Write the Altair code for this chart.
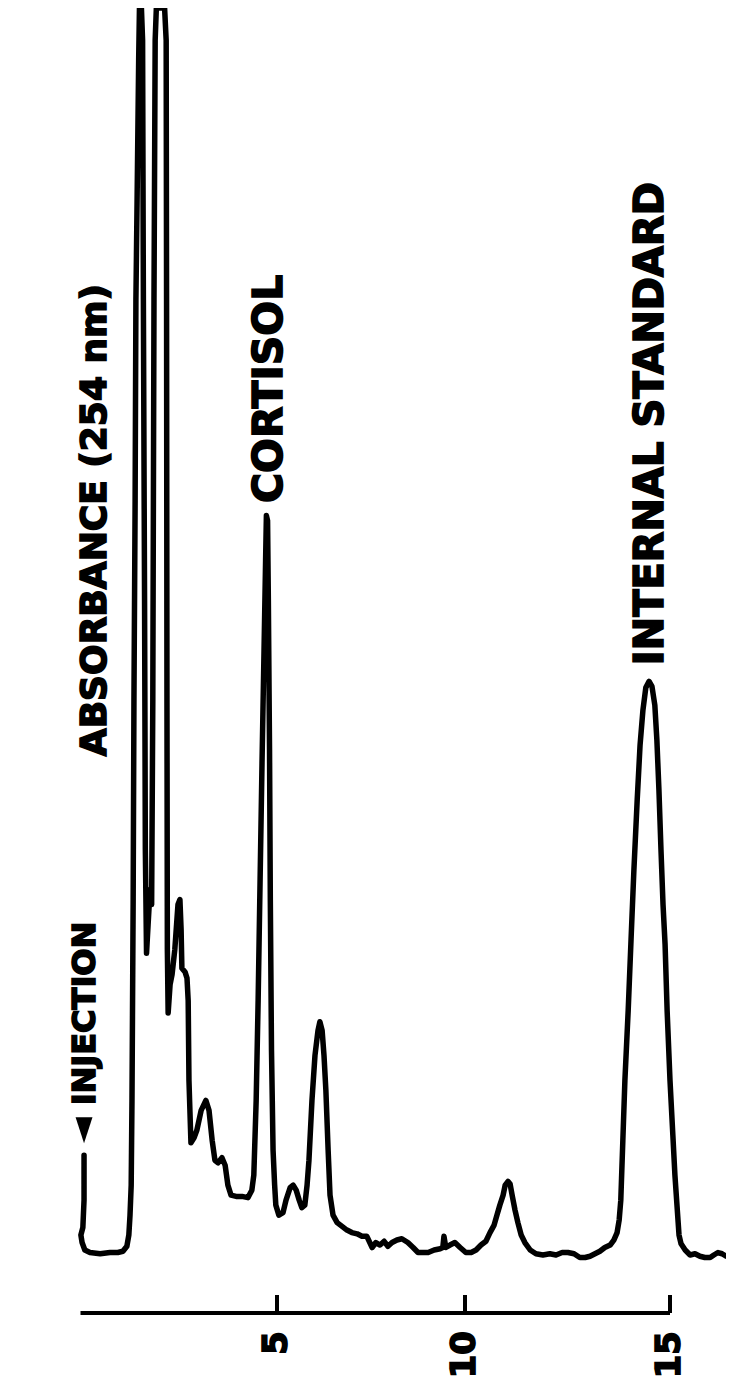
import altair as alt
import pandas as pd

# Chromatogram trace: retention time (min) and absorbance (% of full scale)
time_min = [0.09, 0.09, 0.06, 0.01, 0.04, 0.11, 0.24, 0.50, 0.75, 0.95, 1.08, 1.18, 1.23, 1.26, 1.29, 1.31,
            1.34, 1.36, 1.39, 1.41, 1.44, 1.48, 1.50, 1.55, 1.58, 1.60, 1.63, 1.65, 1.68, 1.72, 1.77, 1.81,
            1.84, 1.87, 1.90, 1.93, 2.14, 2.18, 2.19, 2.20, 2.21, 2.23, 2.28, 2.33, 2.40, 2.48, 2.53, 2.56,
            2.58, 2.66, 2.71, 2.74, 2.76, 2.81, 2.89, 2.96, 3.07, 3.19, 3.27, 3.35, 3.42, 3.50, 3.60, 3.68,
            3.75, 3.83, 3.96, 4.11, 4.26, 4.36, 4.41, 4.47, 4.52, 4.57, 4.62, 4.67, 4.71, 4.73, 4.76, 4.78,
            4.81, 4.83, 4.86, 4.90, 4.94, 4.97, 5.05, 5.16, 5.24, 5.35, 5.43, 5.51, 5.59, 5.66, 5.74, 5.80,
            5.85, 5.93, 6.01, 6.09, 6.14, 6.20, 6.25, 6.30, 6.36, 6.41, 6.49, 6.60, 6.73, 6.86, 6.99, 7.13,
            7.26, 7.39, 7.53, 7.63, 7.74, 7.85, 7.95, 8.06, 8.19, 8.32, 8.48, 8.62, 8.75, 8.88, 9.02, 9.18,
            9.34, 9.41, 9.44, 9.49, 9.60, 9.73, 9.87, 10.02, 10.15, 10.27, 10.39, 10.51, 10.61, 10.71, 10.78,
            10.85, 10.93, 10.98, 11.05, 11.10, 11.15, 11.22, 11.29, 11.37, 11.46, 11.59, 11.73, 11.90, 12.07,
            12.22, 12.37, 12.51, 12.66, 12.80, 12.93, 13.05, 13.17, 13.29, 13.41, 13.54, 13.63, 13.71, 13.76,
            13.80, 13.85, 13.90, 13.98, 14.05, 14.12, 14.20, 14.27, 14.34, 14.41, 14.49, 14.56, 14.63, 14.68,
            14.73, 14.78, 14.83, 14.88, 14.93, 15.00, 15.07, 15.12, 15.17, 15.22, 15.27, 15.37, 15.49, 15.61,
            15.73, 15.85, 15.98, 16.07, 16.17, 16.27, 16.37, 16.46, 16.56]
absorbance = [8.0, 4.4, 2.2, 1.6, 1.0, 0.4, 0.2, 0.1, 0.2, 0.2, 0.3, 0.7, 1.6, 3.2, 5.6, 12.4,
              28.5, 44.5, 60.5, 76.6, 84.6, 95.8, 100.0, 100.0, 97.4, 76.6, 52.5, 32.5, 24.2, 26.5, 29.3, 28.1,
              44.5, 76.6, 97.4, 100.0, 100.0, 97.4, 76.6, 44.5, 24.5, 19.4, 21.7, 22.5, 24.5, 28.1, 28.5, 26.1,
              23.0, 22.7, 22.2, 20.4, 14.0, 9.0, 9.4, 10.0, 11.6, 12.4, 11.6, 9.2, 7.6, 7.4, 7.8, 7.2,
              5.6, 4.8, 4.7, 4.7, 4.6, 5.2, 6.4, 12.4, 20.4, 30.1, 39.7, 48.5, 55.7, 59.3, 58.9, 52.5,
              40.5, 28.5, 16.4, 8.4, 5.6, 4.0, 3.2, 3.4, 4.4, 5.4, 5.6, 5.2, 4.4, 3.8, 4.0, 5.6,
              7.6, 12.4, 16.0, 18.0, 18.7, 18.0, 16.0, 13.2, 8.4, 4.8, 3.2, 2.6, 2.3, 2.0, 1.8, 1.7,
              1.5, 1.5, 0.6, 1.0, 0.8, 1.1, 0.7, 1.0, 1.2, 1.3, 1.0, 0.6, 0.2, 0.2, 0.2, 0.4,
              0.5, 0.6, 1.5, 0.6, 0.8, 1.0, 0.6, 0.2, 0.2, 0.4, 0.8, 1.1, 1.8, 2.4, 3.2,
              4.0, 4.8, 5.6, 5.9, 5.7, 4.8, 3.6, 2.6, 1.6, 1.0, 0.4, 0.1, 0.0, 0.1,
              0.0, 0.2, 0.2, 0.1, -0.2, -0.2, -0.1, 0.1, 0.3, 0.6, 0.8, 1.2, 1.8, 2.8,
              4.4, 9.2, 14.0, 19.6, 25.3, 30.9, 36.5, 40.9, 43.7, 45.5, 46.0, 45.6, 44.1, 41.3,
              37.3, 32.5, 28.1, 24.9, 19.6, 14.0, 9.6, 6.4, 4.0, 1.6, 0.9, 0.4, 0.0, 0.1,
              -0.1, -0.2, -0.2, 0.0, 0.2, 0.1, -0.1, 0.0, 0.1]

# Annotations (anchor at the start of each rotated label)
label_text = ["ABSORBANCE (254 nm)", "INJECTION", "CORTISOL", "INTERNAL STANDARD"]
label_time = [0.37, 0.11, 4.82, 14.54]
label_abs = [40.0, 12.0, 60.3, 47.3]
label_size = [36, 32, 41, 40]

# Injection marker
inject_time = [0.09]
inject_abs = [10.0]

# Time axis
tick_values = [5, 10, 15]
tick_labels = ["5", "10", "15"]
axis_start = [0]
axis_end = [15]

FONT = "DejaVu Sans"

trace = pd.DataFrame({"t": time_min, "A": absorbance, "i": list(range(len(time_min)))})
labels = pd.DataFrame({"text": label_text, "t": label_time, "A": label_abs, "size": label_size})
inject = pd.DataFrame({"t": inject_time, "A": inject_abs})
ticks = pd.DataFrame({"t": tick_values, "lab": tick_labels})
axis_df = pd.DataFrame({"t0": axis_start, "t1": axis_end})

xscale = alt.Scale(domain=[0, 5, 10, 15], range=[0, 196.5, 384.5, 589.5])
yscale = alt.Scale(domain=[0, 100], nice=False, zero=False)

X = lambda f: alt.X(f, scale=xscale, axis=None)
Y = lambda f: alt.Y(f, scale=yscale, axis=None)

line = alt.Chart(trace).mark_line(
    color="black", strokeWidth=5.5, strokeJoin="round", strokeCap="round"
).encode(x=X("t:Q"), y=Y("A:Q"), order="i:Q")

text = alt.Chart(labels).mark_text(
    angle=270, align="left", baseline="middle", font=FONT, fontWeight="bold",
    color="black", stroke="black", strokeWidth=1.6
).encode(x=X("t:Q"), y=Y("A:Q"), text="text:N", size=alt.Size("size:Q", scale=None))

arrow = alt.Chart(inject).mark_point(
    shape="M-0.65,-1L0.65,-1L0,1Z", filled=True, color="black", opacity=1, size=676
).encode(x=X("t:Q"), y=Y("A:Q"))

axis_line = alt.Chart(axis_df).mark_rule(color="black", strokeWidth=4).encode(
    x=X("t0:Q"), x2="t1:Q", y=alt.value(1305)
)
tick_marks = alt.Chart(ticks).mark_rule(color="black", strokeWidth=4).encode(
    x=X("t:Q"), y=alt.value(1287), y2=alt.value(1305)
)
tick_text = alt.Chart(ticks).mark_text(
    angle=270, align="right", baseline="middle", font=FONT, fontWeight="bold", fontSize=34,
    color="black", stroke="black", strokeWidth=1.6
).encode(x=X("t:Q"), y=alt.value(1323), text="lab:N")

chart = alt.layer(line, text, arrow, axis_line, tick_marks, tick_text).properties(
    width=645.5, height=1247,
    autosize=alt.AutoSizeParams(type="none"),
    padding={"left": 72.5, "top": 0, "right": 0, "bottom": 123},
    background="white",
).configure_view(stroke=None)

chart.save("out.html", embed_options={"renderer": "svg", "actions": False})
